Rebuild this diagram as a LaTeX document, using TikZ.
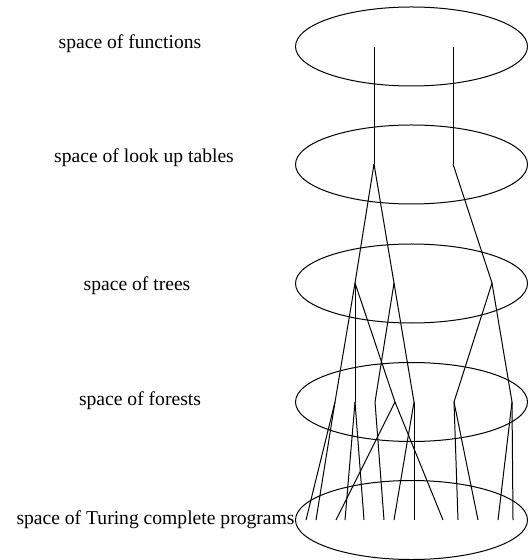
\documentclass[tikz,border=0pt]{standalone}
\usepackage{fontspec}
\setmainfont{Liberation Serif}
\usepackage{tikz}
\definecolor{ink}{RGB}{0,0,0}
\tikzset{
  spaceoval/.style={draw=ink, line width=0.5pt},
  link/.style={draw=ink, line width=0.5pt},
  spacelabel/.style={font=\fontsize{9.8}{12}\selectfont, text=ink, inner sep=0}
}

\begin{document}
\begin{tikzpicture}[x=0.5pt,y=-0.5pt]
    \useasboundingbox (0,0) rectangle (528,560);
    \foreach \y in {46.5,164.5,283.5,402,520}{
      \draw[spaceoval] (411.5,\y) ellipse [x radius=116, y radius=39.5];}
    \node[spacelabel] (lblfn) at (130,44) {space of functions};
    \node[spacelabel] (lbllut) at (144,158) {space of look up tables};
    \node[spacelabel] (lbltr) at (137,286) {space of trees};
    \node[spacelabel] (lblfo) at (140,401) {space of forests};
    \node[spacelabel] (lbltc) at (155.5,520) {space of Turing complete programs};
    \foreach \x [count=\i] in {374,453}{
      \coordinate (fn\i) at (\x,47);
      \coordinate (lut\i) at (\x,164);}
    \foreach \x [count=\i] in {355,394,492}
      \coordinate (tr\i) at (\x,283);
    \foreach \x [count=\i] in {335,355,375,395,414,454,512}
      \coordinate (fo\i) at (\x,402);
    \foreach \x [count=\i] in {306,316,336,345,364,384,394,414,443,458,478,498,513}
      \coordinate (tc\i) at (\x,520);
    \foreach \a/\b in {fn1/lut1,fn2/lut2,lut1/tr1,lut1/tr2,lut2/tr3,
        tr1/fo1,tr1/fo2,tr1/fo4,tr2/fo3,tr2/fo5,tr3/fo6,tr3/fo7,
        fo1/tc1,fo1/tc2,fo2/tc4,fo2/tc5,fo3/tc6,fo4/tc3,fo4/tc9,
        fo5/tc7,fo5/tc8,fo6/tc10,fo6/tc11,fo7/tc12,fo7/tc13}
      \draw[link] (\a) -- (\b);
  \end{tikzpicture}
\end{document}
